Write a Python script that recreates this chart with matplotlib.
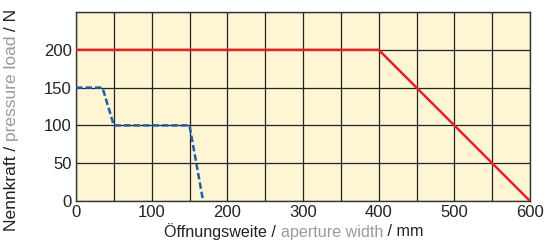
import matplotlib
matplotlib.use("Agg")
import matplotlib.pyplot as plt
import numpy as np

plt.rcParams['font.family'] = ['Liberation Sans', 'DejaVu Sans']

# Data
red_x = [0, 400, 600]
red_y = [200, 200, 0]
blue_x = [0, 35, 50, 150, 168]
blue_y = [150, 150, 100, 100, 0]

xticks = [0, 100, 200, 300, 400, 500, 600]
yticks = [0, 50, 100, 150, 200]

xlabel_parts = [("Öffnungsweite / ", "#222222"), ("aperture width", "#9a9a9a"), (" / mm", "#222222")]
ylabel_parts = [("Nennkraft / ", "#222222"), ("pressure load", "#9a9a9a"), (" / N", "#222222")]

fig = plt.figure(figsize=(5.47, 2.4), dpi=100)
ax = fig.add_axes([76 / 547, 1 - 201 / 240, 454 / 547, 189 / 240])
ax.set_facecolor("#fdf5d3")

ax.plot(red_x, red_y, color="#e8202a", lw=1.8, solid_capstyle="butt", zorder=3)
ax.plot(blue_x, blue_y, color="#1f5ea8", lw=1.8, ls=(0, (2.6, 1.2)), zorder=3)

ax.set_xlim(0, 600)
ax.set_ylim(0, 250)
ax.set_xticks(xticks, [str(t) for t in xticks])
ax.set_xticks(np.arange(50, 600, 100), minor=True)
ax.set_yticks(yticks, [str(t) for t in yticks])
ax.set_yticks([250], minor=True)
ax.grid(True, which="both", color="#222222", lw=0.9)
ax.tick_params(which="both", length=0, labelsize=12, colors="#222222", pad=3)
for s in ax.spines.values():
    s.set_color("#333333")
    s.set_linewidth(1.0)

# multicolour axis labels
fig.canvas.draw()
renderer = fig.canvas.get_renderer()


def width_of(s, size):
    t = fig.text(0, 0, s + "x", fontsize=size)
    w1 = t.get_window_extent(renderer).width
    t.set_text("x")
    w2 = t.get_window_extent(renderer).width
    t.remove()
    return w1 - w2


def multicolor(parts, cx, cy, size, vertical=False):
    full = "".join(p for p, _ in parts)
    total = width_of(full, size)
    for i, (p, c) in enumerate(parts):
        offset = width_of("".join(q for q, _ in parts[:i]), size) if i else 0.0
        if vertical:
            fig.text(cx / fig.bbox.width, (cy - total / 2 + offset) / fig.bbox.height, p,
                     fontsize=size, color=c, rotation=90, ha="center", va="bottom")
        else:
            fig.text((cx - total / 2 + offset) / fig.bbox.width, cy / fig.bbox.height, p,
                     fontsize=size, color=c, ha="left", va="center")


multicolor(xlabel_parts, 294, 240 - 232, 11.6)
multicolor(ylabel_parts, 12, 240 - 120, 12.5, vertical=True)

fig.savefig("out.png", dpi=100)
